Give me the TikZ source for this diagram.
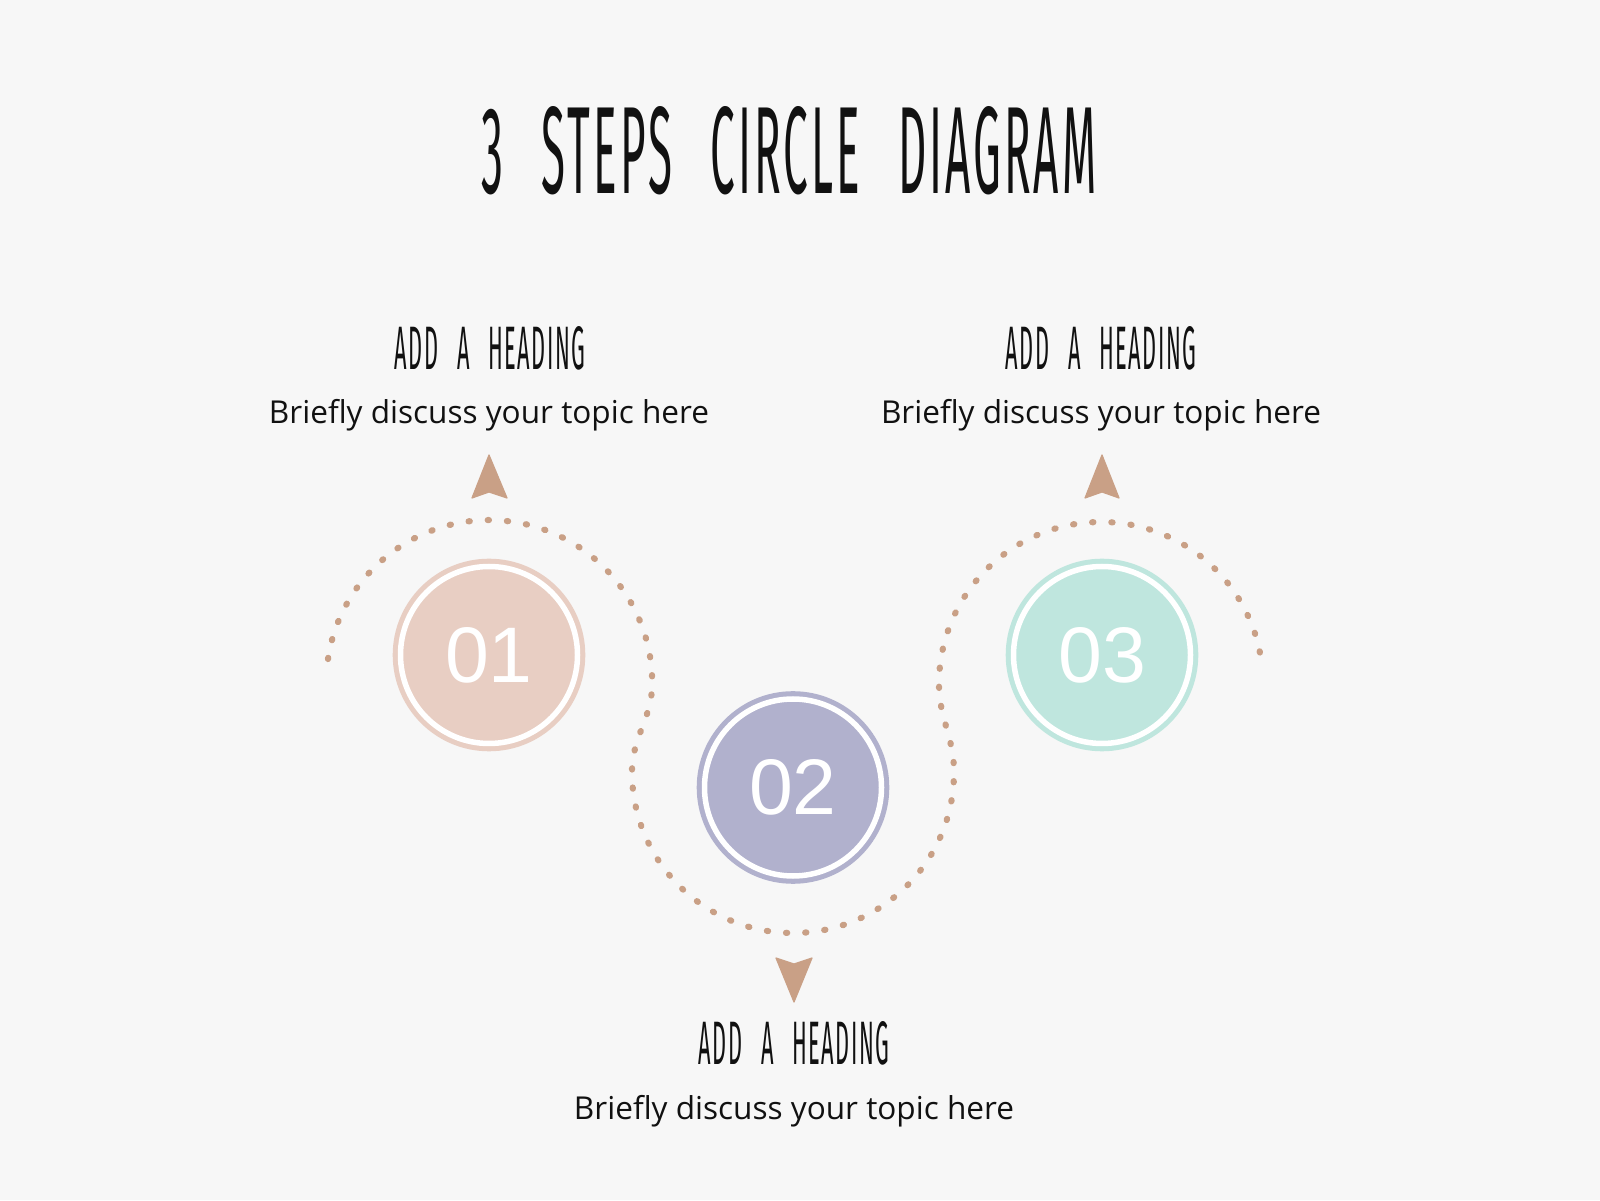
\documentclass[tikz,border=0pt]{standalone}
\usepackage{graphicx}
\usepackage{fontspec}
\setmainfont{Liberation Sans}
\newfontfamily\titlefont[LetterSpace=7,WordSpace=2.6]{Fira Sans}
\newfontfamily\bodyfont{Open Sans}
\newfontfamily\numfont{Liberation Sans}
\definecolor{bgc}{HTML}{F7F7F7}
\definecolor{tan}{HTML}{C9A086}
\definecolor{cone}{HTML}{E8CEC3}
\definecolor{ctwo}{HTML}{B1B1CD}
\definecolor{cthree}{HTML}{BFE6DE}
\definecolor{ink}{HTML}{111111}
\tikzset{
  dotline/.style={draw=tan, line width=6.2pt, line cap=round, dash pattern=on 1.2pt off 18pt},
  numcircle/.style={circle, draw=white, line width=5.5pt, fill=#1, minimum size=177pt, inner sep=0pt, text=white},
  ring/.style={fill=#1},
  tip/.style={fill=tan, draw=tan, line width=1.2pt, line join=round},
  heading/.style={inner sep=0pt, text=ink},
  body/.style={inner sep=0pt, text=ink, anchor=base}
}
\newcommand{\headtxt}{\resizebox{191pt}{43pt}{\titlefont ADD A HEADING}}
\newcommand{\bodytxt}{\resizebox{440pt}{!}{\bodyfont Briefly discuss your topic here}}
\begin{document}
\begin{tikzpicture}[x=1pt,y=1pt]
\useasboundingbox (0,0) rectangle (1600,1200);
\fill[bgc] (0,0) rectangle (1600,1200);

% title
\node[heading] (title) at (789,1049.5) {\resizebox{615pt}{87pt}{\titlefont 3 STEPS CIRCLE DIAGRAM}};

% dotted wave
\draw[dotline] (328,541) arc[start angle=171.5, end angle=0, radius=163pt]
  to[out=-90,in=90] (632,428)
  arc[start angle=180, end angle=360, radius=161pt]
  to[out=90,in=-90] (939,516)
  arc[start angle=180, end angle=7.5, radius=162pt];

% circles
\fill[ring=cone] (489,545) circle (96.3pt);
\node[numcircle=cone] (n1) at (489,545) {\resizebox{!}{55pt}{\numfont 01}};
\fill[ring=ctwo] (793,412.5) circle (96.3pt);
\node[numcircle=ctwo] (n2) at (793,412.5) {\resizebox{!}{55pt}{\numfont 02}};
\fill[ring=cthree] (1102,545) circle (96.3pt);
\node[numcircle=cthree] (n3) at (1102,545) {\resizebox{!}{55pt}{\numfont 03}};

% arrow heads
\filldraw[tip] (489,745) -- (507,702) -- (489,708) -- (472,702) -- cycle;
\filldraw[tip] (1102,745) -- (1119,702) -- (1102,708) -- (1085,702) -- cycle;
\filldraw[tip] (794,198) -- (812,242) -- (794,236) -- (776,242) -- cycle;

% texts
\node[heading] (h1) at (490,852) {\headtxt};
\node[body] (b1) at (489,776) {\bodytxt};
\node[heading] (h3) at (1101,852) {\headtxt};
\node[body] (b3) at (1101,776) {\bodytxt};
\node[heading] (h2) at (794,157) {\headtxt};
\node[body] (b2) at (794,81) {\bodytxt};
\end{tikzpicture}
\end{document}
